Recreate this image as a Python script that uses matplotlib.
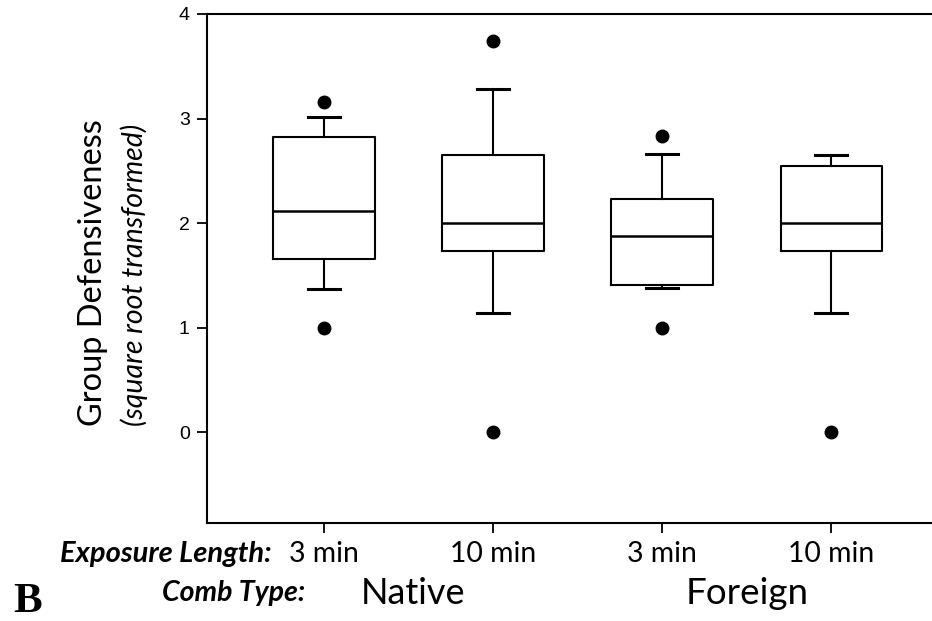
import matplotlib
matplotlib.use("Agg")
import matplotlib.pyplot as plt
import matplotlib.transforms as mtransforms

# ---- data ----
exposure_labels = ["3 min", "10 min", "3 min", "10 min"]
comb_types = ["Native", "Foreign"]
q1 = [1.655, 1.73, 1.41, 1.73]
median = [2.115, 2.0, 1.875, 2.0]
q3 = [2.82, 2.65, 2.23, 2.55]
whisker_low = [1.37, 1.14, 1.38, 1.14]
whisker_high = [3.01, 3.28, 2.66, 2.65]
outliers = [[3.16, 1.0], [3.74, 0.0], [2.83, 1.0], [0.0]]
y_ticks = [0, 1, 2, 3, 4]

FONT = "Lato"

fig = plt.figure(figsize=(9.32, 6.21), dpi=100)
ax = fig.add_axes([207/932, 1-523/621, 1-207/932 + 0.01, (523-14)/621])

stats = []
for i in range(len(q1)):
    stats.append(dict(med=median[i], q1=q1[i], q3=q3[i],
                      whislo=whisker_low[i], whishi=whisker_high[i],
                      fliers=outliers[i]))
positions = list(range(1, len(q1) + 1))
ax.bxp(stats, positions=positions, widths=0.6, capwidths=0.19,
       boxprops=dict(color="black", linewidth=1.5),
       medianprops=dict(color="black", linewidth=1.8),
       whiskerprops=dict(color="black", linewidth=1.5),
       capprops=dict(color="black", linewidth=2.2),
       flierprops=dict(marker="o", markerfacecolor="black",
                       markeredgecolor="black", markersize=9))

ax.set_xlim(0.31, 4.65)
ax.set_ylim(-0.87, 4)
ax.set_yticks(y_ticks)
ax.set_yticklabels([str(t) for t in y_ticks], fontfamily="Liberation Sans", fontsize=14)
ax.set_xticks(positions)
ax.set_xticklabels([])
ax.tick_params(axis="both", direction="out", length=7, width=1.3, colors="black")
ax.tick_params(axis="y", pad=5.5)
ax.spines["right"].set_visible(False)
for s in ["left", "bottom", "top"]:
    ax.spines[s].set_linewidth(1.5)

bt = mtransforms.blended_transform_factory(ax.transData, fig.transFigure)
for p, lab in zip(positions, exposure_labels):
    ax.text(p, 1-554/621, lab, transform=bt,
            ha="center", va="center", fontfamily=FONT, fontsize=20.4)
fig.text(272/932, 1-554/621, "Exposure Length:",
         ha="right", va="center", fontfamily=FONT, fontsize=21,
         fontweight="bold", fontstyle="italic")
fig.text(305/932, 1-593/621, "Comb Type:",
         ha="right", va="center", fontfamily=FONT, fontsize=20.5,
         fontweight="bold", fontstyle="italic")
ax.text(1.53, 1-594/621, comb_types[0], transform=bt, ha="center", va="center",
        fontfamily=FONT, fontsize=26)
ax.text(3.5, 1-594/621, comb_types[1], transform=bt, ha="center", va="center",
        fontfamily=FONT, fontsize=26.5)
fig.text(13/932, 1-602/621, "B", ha="left", va="center",
         fontfamily="Liberation Serif", fontweight="bold", fontsize=31)

fig.text(93/932, 1-273/621, "Group Defensiveness", rotation=90,
         ha="center", va="center", fontfamily=FONT, fontsize=23.4)
fig.text(134/932, 1-275/621, "(square root transformed)", rotation=90,
         ha="center", va="center", fontfamily=FONT, fontsize=20.5,
         fontstyle="italic")

fig.savefig("out.png", dpi=100)
